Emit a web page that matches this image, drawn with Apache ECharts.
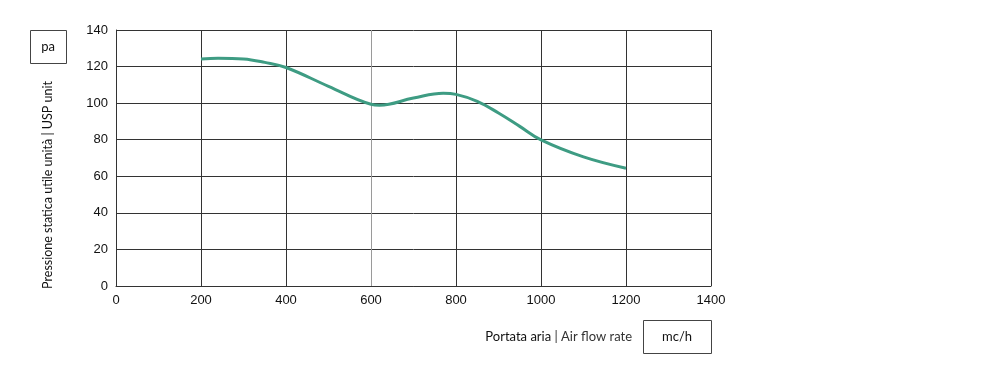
<!DOCTYPE html>
<html><head><meta charset="utf-8">
<script src="https://cdn.jsdelivr.net/npm/echarts@6/dist/echarts.min.js"></script>
<style>html,body{margin:0;padding:0;background:#fff}#c{width:1000px;height:380px}</style>
</head><body><div id="c"></div>
<script>
const flowRate = [200, 240, 300, 350, 400, 500, 600, 620, 700, 770, 800, 850, 900, 950, 1000, 1100, 1200];
const pressure = [124.2, 124.6, 124.2, 122.3, 119.5, 109.2, 99.4, 98.9, 102.8, 105.4, 104.8, 101, 94.6, 87.3, 79.9, 70.6, 64.4];
const xTicks = [0, 200, 400, 600, 800, 1000, 1200, 1400];
const yTicks = [0, 20, 40, 60, 80, 100, 120, 140];
const yTitle = 'Pressione statica utile unità | USP unit';
const xTitleMain = 'Portata aria';
const xTitleSub = ' | Air flow rate';
const yUnit = 'pa';
const xUnit = 'mc/h';

const chart = echarts.init(document.getElementById('c'), null, {renderer: 'canvas'});
const lineColor = '#333';
chart.setOption({
  animation: false,
  grid: {left: 116, right: 289, top: 30, bottom: 94, show: false},
  xAxis: {
    type: 'value', min: xTicks[0], max: xTicks[xTicks.length - 1], interval: 200,
    axisLine: {show: true, lineStyle: {color: lineColor, width: 1}},
    axisTick: {show: false},
    axisLabel: {color: '#111', fontFamily: 'Liberation Sans', fontSize: 13, margin: 8, formatter: v => String(v)},
    splitLine: {show: true, lineStyle: {color: [lineColor, lineColor, lineColor, '#9a9a9a', lineColor, lineColor, lineColor, lineColor], width: 1}}
  },
  yAxis: {
    type: 'value', min: yTicks[0], max: yTicks[yTicks.length - 1], interval: 20,
    axisLine: {show: true, lineStyle: {color: lineColor, width: 1}},
    axisTick: {show: false},
    axisLabel: {color: '#111', fontFamily: 'Liberation Sans', fontSize: 13, margin: 8, formatter: v => String(v)},
    splitLine: {show: true, lineStyle: {color: lineColor, width: 1}}
  },
  series: [{
    type: 'line', data: flowRate.map((x, i) => [x, pressure[i]]),
    smooth: 0.4, symbol: 'none',
    lineStyle: {color: '#3e9c83', width: 3}
  }],
  graphic: [
    {type: 'rect', shape: {x: 30.5, y: 30.5, width: 36, height: 33}, style: {fill: '#fff', stroke: '#444', lineWidth: 1}},
    {type: 'text', x: 48, y: 47, style: {text: yUnit, fill: '#111', font: '13px Lato', align: 'center', verticalAlign: 'middle'}},
    {type: 'text', x: 48, y: 185, rotation: Math.PI / 2,
     style: {text: yTitle, fill: '#111', font: '12.5px Lato', align: 'center', verticalAlign: 'middle'}},
    {type: 'rect', shape: {x: 643.5, y: 320.5, width: 68, height: 33}, style: {fill: '#fff', stroke: '#444', lineWidth: 1}},
    {type: 'text', x: 677, y: 337, style: {text: xUnit, fill: '#111', font: '13px Lato', align: 'center', verticalAlign: 'middle'}},
    {type: 'text', x: 632, y: 337, style: {
      text: '{a|' + xTitleMain + '}{b|' + xTitleSub + '}', align: 'right', verticalAlign: 'middle',
      rich: {a: {fill: '#111', fontFamily: 'Lato', fontSize: 13},
             b: {fill: '#333', fontFamily: 'Lato', fontSize: 13, fontWeight: 'normal'}}
    }}
  ]
});
</script></body></html>
